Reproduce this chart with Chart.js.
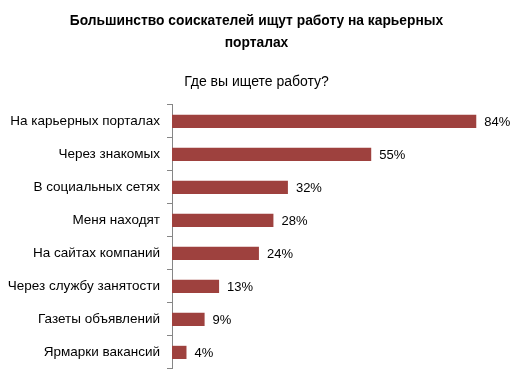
<!DOCTYPE html>
<html><head><meta charset="utf-8">
<script src="https://cdn.jsdelivr.net/npm/chart.js@4"></script>
<style>html,body{margin:0;padding:0;background:#fff}#w{width:513px;height:384px}</style>
</head><body><div id="w"><canvas id="c"></canvas></div>
<script>
const categories = ["На карьерных порталах","Через знакомых","В социальных сетях","Меня находят","На сайтах компаний","Через службу занятости","Газеты объявлений","Ярмарки вакансий"];
const values = [84, 55, 32, 28, 24, 13, 9, 4];
const titleLines = ["Большинство соискателей ищут работу на карьерных","порталах"];
const subtitleText = "Где вы ищете работу?";
const FONT = "'Liberation Sans', Arial, sans-serif";

const valueLabels = {
  id: 'valueLabels',
  afterLayout(chart) {
    // let category labels extend into the left padding without clipping
    chart.scales.y.left = 0;
  },
  afterDatasetsDraw(chart) {
    const ctx = chart.ctx;
    const meta = chart.getDatasetMeta(0);
    ctx.save();
    ctx.font = "13px " + FONT;
    ctx.fillStyle = "#000";
    ctx.textAlign = "left";
    ctx.textBaseline = "middle";
    meta.data.forEach((bar, i) => {
      ctx.fillText(values[i] + "%", bar.x + 8, bar.y + 1);
    });
    ctx.restore();
  }
};

new Chart(document.getElementById('c'), {
  type: 'bar',
  data: {
    labels: categories,
    datasets: [{
      data: values,
      backgroundColor: '#9E413E',
      barPercentage: 0.4,
      categoryPercentage: 1.0
    }]
  },
  options: {
    indexAxis: 'y',
    responsive: true,
    maintainAspectRatio: false,
    animation: false,
    layout: { padding: { top: 0, right: 15, bottom: 15, left: 15 } },
    plugins: {
      legend: { display: false },
      tooltip: { enabled: false },
      title: {
        display: true,
        text: titleLines,
        color: '#000',
        font: { family: FONT, size: 13.8, weight: 'bold', lineHeight: 1.6 },
        padding: { top: 10, bottom: 18 }
      },
      subtitle: {
        display: true,
        text: subtitleText,
        color: '#000',
        font: { family: FONT, size: 14, weight: 'normal' },
        padding: { top: 2, bottom: 14 }
      }
    },
    scales: {
      x: { display: false, min: 0, max: 90 },
      y: {
        afterFit(scale) { scale.width = 157; },
        grid: { display: true, drawOnChartArea: false, drawTicks: true, tickLength: 5, color: '#868686', offset: true },
        border: { display: true, color: '#868686' },
        ticks: { color: '#000', font: { family: FONT, size: 13.5 }, padding: 7, autoSkip: false }
      }
    }
  },
  plugins: [valueLabels]
});
</script></body></html>
